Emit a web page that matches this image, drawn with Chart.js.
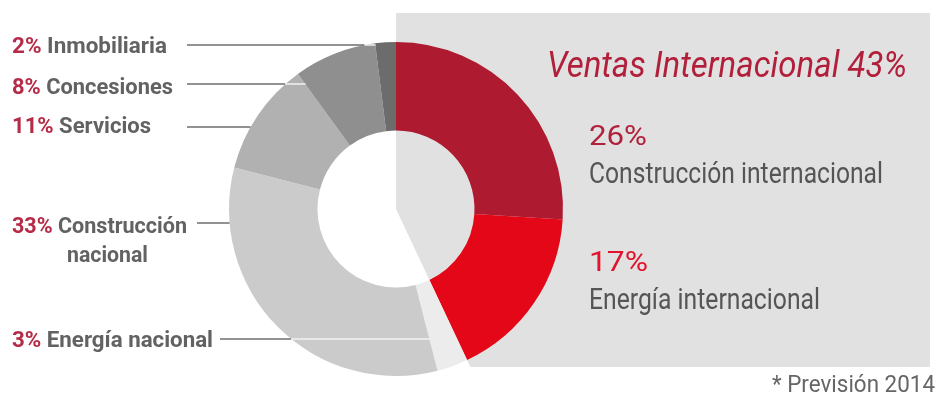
<!DOCTYPE html>
<html>
<head>
<meta charset="utf-8">
<script src="https://cdn.jsdelivr.net/npm/chart.js@4.4.0/dist/chart.umd.min.js"></script>
<style>
html, body { margin: 0; padding: 0; background: #fff; }
#wrap { position: relative; width: 938px; height: 400px; }
</style>
</head>
<body>
<div id="wrap"><canvas id="ventas" width="938" height="400"></canvas></div>
<script>
// data, clockwise from 12 o'clock
const categories = ["Construcción internacional", "Energía internacional", "Energía nacional",
  "Construcción nacional", "Servicios", "Concesiones", "Inmobiliaria"];
const shares = [26, 17, 3, 33, 11, 8, 2];
const sliceColors = ["#ae1a2f", "#e30717", "#ececec", "#cbcbcb", "#b1b1b1", "#8f8f8f", "#6c6c6c"];
const internacional = [0, 1];
const titleText = "Ventas Internacional";
const footnote = "* Previsión 2014";

// where the side labels sit (layout only)
const leftLabels = [
  { i: 6, lines: ["Inmobiliaria"], x: [12], y: [53], w: [155], lineY: 45, lineX: 187 },
  { i: 5, lines: ["Concesiones"], x: [12], y: [94], w: [161], lineY: 84, lineX: 187 },
  { i: 4, lines: ["Servicios"], x: [12], y: [133], w: [139], lineY: 127, lineX: 187 },
  { i: 3, lines: ["Construcción", "nacional"], x: [12, 67], y: [233, 262], w: [175, 81], lineY: 223, lineX: 197 },
  { i: 2, lines: ["Energía nacional"], x: [12], y: [347], w: [201], lineY: 339, lineX: 220 },
];
const rightLabels = [
  { i: 0, color: "#b0213b", x: 589, yPct: 145, wPct: 58, yName: 183, wName: 294 },
  { i: 1, color: "#e2142d", x: 589, yPct: 271, wPct: 59, yName: 309, wName: 231 },
];
const panel = { right: 930, top: 13, bottom: 367, color: "#e1e1e1" };

function drawParts(ctx, parts, x, y, width, font) {
  ctx.font = font;
  const full = parts.map(p => p[0]).join("");
  const sx = width / ctx.measureText(full).width;
  ctx.save();
  ctx.translate(x, y);
  ctx.scale(sx, 1);
  ctx.textBaseline = "alphabetic";
  ctx.textAlign = "left";
  let px = 0;
  parts.forEach(([t, c]) => {
    ctx.fillStyle = c;
    ctx.fillText(t, px, 0);
    px += ctx.measureText(t).width;
  });
  ctx.restore();
}

function inSlice(el, x, y) {
  const dx = x - el.x, dy = y - el.y;
  const r = Math.hypot(dx, dy);
  if (r < el.innerRadius || r > el.outerRadius) return false;
  let a = Math.atan2(dy, dx);
  while (a < el.startAngle) a += Math.PI * 2;
  return a <= el.endAngle;
}

const panelPlugin = {
  id: "panel",
  beforeDatasetsDraw(chart) {
    const ctx = chart.ctx;
    const arcs = chart.getDatasetMeta(0).data;
    const { x: cx, y: cy } = arcs[0];
    const endA = arcs[internacional[internacional.length - 1]].endAngle;
    const t = (panel.bottom - cy) / Math.sin(endA);
    const bx = cx + t * Math.cos(endA);
    ctx.save();
    ctx.fillStyle = panel.color;
    ctx.beginPath();
    ctx.moveTo(cx, panel.top);
    ctx.lineTo(panel.right, panel.top);
    ctx.lineTo(panel.right, panel.bottom);
    ctx.lineTo(bx, panel.bottom);
    ctx.lineTo(cx, cy);
    ctx.closePath();
    ctx.fill();
    ctx.restore();
  },
  afterDatasetsDraw(chart) {
    const ctx = chart.ctx;
    const arcs = chart.getDatasetMeta(0).data;
    const { x: cx, y: cy, outerRadius: R } = arcs[0];

    // leader lines
    leftLabels.forEach(l => {
      const el = arcs[l.i];
      const y = l.lineY;
      let end = cx;
      for (let x = l.lineX; x < cx + R; x += 0.5) {
        if (inSlice(el, x, y)) { end = x; break; }
      }
      const dy = y - cy;
      const edge = Math.abs(dy) < R ? cx - Math.sqrt(R * R - dy * dy) : end;
      ctx.save();
      ctx.lineWidth = 1.5;
      ctx.strokeStyle = "#6e6e6e";
      ctx.beginPath();
      ctx.moveTo(l.lineX, y);
      ctx.lineTo(Math.min(edge, end), y);
      ctx.stroke();
      if (end > edge + 1) {
        ctx.strokeStyle = "#f2f2f2";
        ctx.beginPath();
        ctx.moveTo(edge, y);
        ctx.lineTo(end, y);
        ctx.stroke();
      }
      ctx.restore();
    });

    // left labels
    const boldFont = "bold 22px Roboto, 'Liberation Sans', sans-serif";
    leftLabels.forEach(l => {
      l.lines.forEach((line, k) => {
        const parts = k === 0
          ? [[shares[l.i] + "%", "#b62c48"], [" " + line, "#626262"]]
          : [[line, "#626262"]];
        drawParts(ctx, parts, l.x[k], l.y[k], l.w[k], boldFont);
      });
    });

    // right side
    const total = internacional.reduce((s, i) => s + shares[i], 0);
    drawParts(ctx, [[titleText + " " + total + "%", "#b21f3a"]], 547, 77, 360,
      "italic 36px Roboto, 'Liberation Sans', sans-serif");
    rightLabels.forEach(r => {
      drawParts(ctx, [[shares[r.i] + "%", r.color]], r.x, r.yPct, r.wPct,
        "28px Roboto, 'Liberation Sans', sans-serif");
      drawParts(ctx, [[categories[r.i], "#555555"]], r.x, r.yName, r.wName,
        "29px Roboto, 'Liberation Sans', sans-serif");
    });
    drawParts(ctx, [[footnote, "#666666"]], 772, 392, 163,
      "23px Roboto, 'Liberation Sans', sans-serif");
  }
};

const config = {
  type: "doughnut",
  data: {
    labels: categories,
    datasets: [{
      data: shares,
      backgroundColor: sliceColors,
      borderWidth: 0,
    }],
  },
  options: {
    responsive: false,
    animation: false,
    cutout: "47%",
    layout: {
      padding: { left: 229, right: 375, top: 42, bottom: 24 },
    },
    plugins: {
      legend: { display: false },
      tooltip: { enabled: false },
    },
  },
  plugins: [panelPlugin],
};

const ctx = document.getElementById("ventas").getContext("2d");
let ventasChart = new Chart(ctx, config);
</script>
</body>
</html>
